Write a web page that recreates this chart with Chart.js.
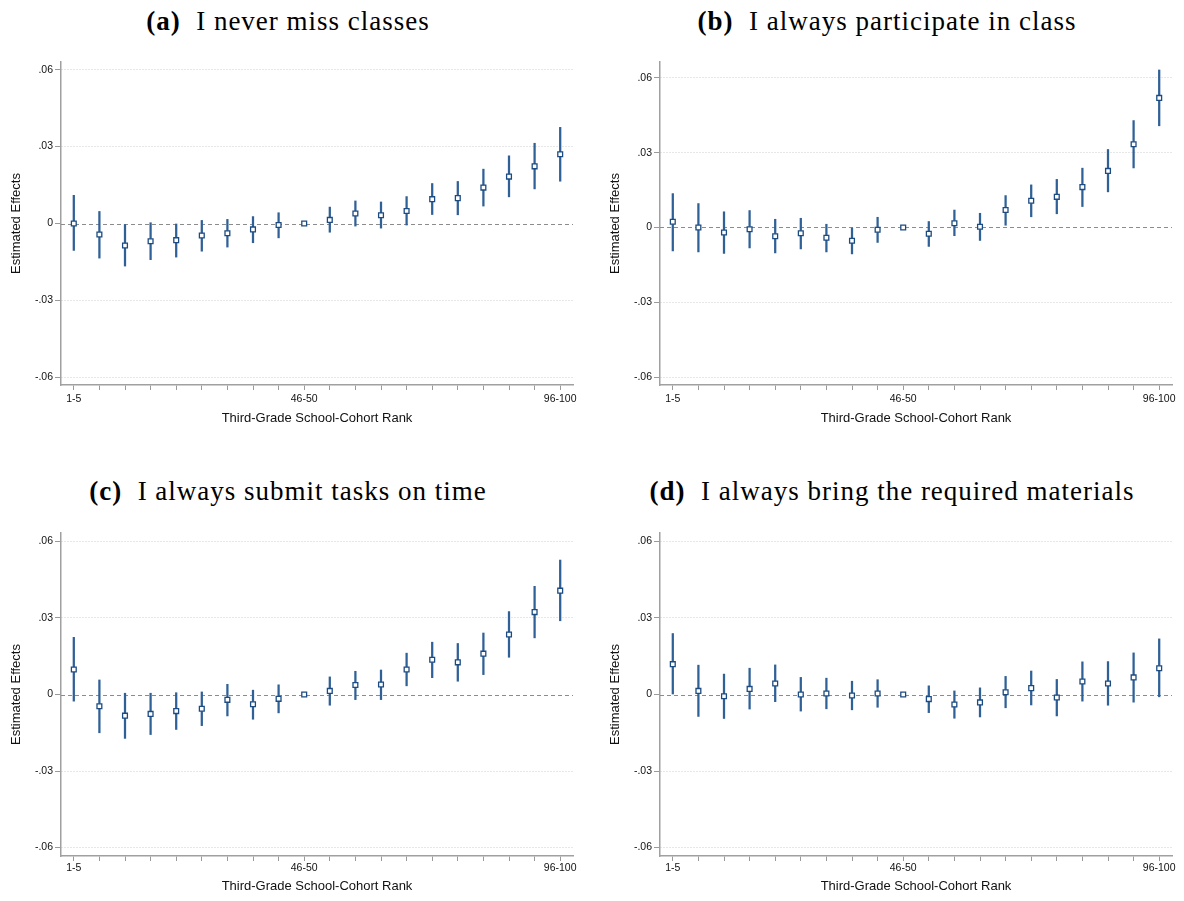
<!DOCTYPE html>
<html>
<head>
<meta charset="utf-8">
<script src="https://cdn.jsdelivr.net/npm/chart.js@4.4.1/dist/chart.umd.min.js"></script>
<style>
  html, body { margin: 0; padding: 0; background: #fff; }
  #page { position: relative; width: 1184px; height: 901px; overflow: hidden; }
  .cap { position: absolute; width: 600px; text-align: center; font-family: "Liberation Serif", "Times New Roman", serif; font-size: 27px; letter-spacing: 1px; color: #000; white-space: pre; line-height: 1; }
  .cap b { font-weight: bold; }
  canvas { position: absolute; }
</style>
</head>
<body>
<div id="page">
  <div class="cap" style="left:-12px; top:8px;"><b>(a)</b>  I never miss classes</div>
  <div class="cap" style="left:587px; top:8px;"><b>(b)</b>  I always participate in class</div>
  <div class="cap" style="left:-12px; top:478px;"><b>(c)</b>  I always submit tasks on time</div>
  <div class="cap" style="left:592px; top:478px;"><b>(d)</b>  I always bring the required materials</div>
  <canvas id="pa" width="592" height="400" style="left:0px; top:50px;"></canvas>
  <canvas id="pb" width="592" height="400" style="left:592px; top:50px;"></canvas>
  <canvas id="pc" width="592" height="380" style="left:0px; top:520px;"></canvas>
  <canvas id="pd" width="592" height="380" style="left:592px; top:520px;"></canvas>
</div>
<script>
// Rank groups (ventiles of the third-grade school-cohort rank)
const ranks = ["1-5","6-10","11-15","16-20","21-25","26-30","31-35","36-40","41-45","46-50",
               "51-55","56-60","61-65","66-70","71-75","76-80","81-85","86-90","91-95","96-100"];
const shownRanks = ["1-5","46-50","96-100"];
const yTicks = [-0.06, -0.03, 0, 0.03, 0.06];

// (a) I never miss classes
const estA = [0.0000,-0.0043,-0.0086,-0.0069,-0.0065,-0.0047,-0.0038,-0.0023,-0.0006,0,
              0.0014,0.0039,0.0032,0.0049,0.0095,0.0099,0.0140,0.0183,0.0223,0.0270];
const loA  = [-0.0105,-0.0135,-0.0166,-0.0141,-0.0131,-0.0108,-0.0092,-0.0075,-0.0056,null,
              -0.0034,-0.0010,-0.0018,-0.0006,0.0035,0.0034,0.0068,0.0104,0.0135,0.0165];
const hiA  = [0.0110,0.0047,-0.0004,0.0003,0.0000,0.0012,0.0016,0.0027,0.0042,null,
              0.0064,0.0088,0.0084,0.0105,0.0156,0.0164,0.0212,0.0264,0.0313,0.0375];

// (b) I always participate in class
const estB = [0.0023,0.0000,-0.0020,-0.0007,-0.0035,-0.0023,-0.0041,-0.0053,-0.0009,0,
              -0.0025,0.0017,0.0003,0.0070,0.0107,0.0123,0.0162,0.0227,0.0334,0.0520];
const loB  = [-0.0094,-0.0098,-0.0104,-0.0082,-0.0102,-0.0086,-0.0098,-0.0106,-0.0060,null,
              -0.0076,-0.0033,-0.0052,0.0009,0.0043,0.0055,0.0084,0.0143,0.0239,0.0408];
const hiB  = [0.0136,0.0096,0.0063,0.0068,0.0033,0.0037,0.0013,0.0000,0.0041,null,
              0.0024,0.0070,0.0057,0.0128,0.0171,0.0193,0.0238,0.0313,0.0429,0.0632];

// (c) I always submit tasks on time
const estC = [0.0098,-0.0046,-0.0083,-0.0076,-0.0065,-0.0056,-0.0021,-0.0038,-0.0017,0,
              0.0014,0.0037,0.0039,0.0098,0.0136,0.0126,0.0160,0.0235,0.0323,0.0407];
const loC  = [-0.0026,-0.0150,-0.0172,-0.0157,-0.0137,-0.0122,-0.0084,-0.0097,-0.0072,null,
              -0.0042,-0.0020,-0.0020,0.0034,0.0066,0.0052,0.0078,0.0146,0.0222,0.0289];
const hiC  = [0.0224,0.0057,0.0005,0.0005,0.0007,0.0010,0.0040,0.0017,0.0038,null,
              0.0069,0.0091,0.0096,0.0162,0.0205,0.0200,0.0241,0.0325,0.0424,0.0527];

// (d) I always bring the required materials
const estD = [0.0119,0.0014,-0.0007,0.0022,0.0043,0.0000,0.0004,-0.0004,0.0004,0,
              -0.0018,-0.0039,-0.0031,0.0009,0.0025,-0.0012,0.0051,0.0043,0.0067,0.0103];
const loD  = [0.0000,-0.0086,-0.0094,-0.0057,-0.0028,-0.0065,-0.0056,-0.0060,-0.0050,null,
              -0.0071,-0.0093,-0.0088,-0.0052,-0.0041,-0.0084,-0.0026,-0.0042,-0.0030,-0.0009];
const hiD  = [0.0239,0.0115,0.0080,0.0103,0.0116,0.0067,0.0064,0.0052,0.0058,null,
              0.0034,0.0014,0.0026,0.0071,0.0092,0.0059,0.0128,0.0129,0.0163,0.0218];

const sans = '"Liberation Sans", Arial, Helvetica, sans-serif';

// dashed reference line at zero across the full plot region
const zeroLine = {
  id: 'zeroLine',
  beforeDatasetsDraw(chart) {
    const { ctx, chartArea: a, scales: { y } } = chart;
    const py = Math.round(y.getPixelForValue(0)) + 0.5;
    ctx.save();
    ctx.strokeStyle = '#8c8c8c';
    ctx.lineWidth = 1.2;
    ctx.setLineDash([4, 3]);
    ctx.beginPath();
    ctx.moveTo(a.left, py);
    ctx.lineTo(a.right, py);
    ctx.stroke();
    ctx.restore();
  }
};

function fmtTick(v) {
  if (Math.abs(v) < 1e-9) return '0';
  const s = String(Math.round(Math.abs(v) * 100)).padStart(2, '0');
  return (v < 0 ? '-.' : '.') + s;
}

function panel(id, est, lo, hi, box) {
  const intervals = lo.map((l, i) => (l === null ? null : [l, hi[i]]));
  return new Chart(document.getElementById(id), {
    type: 'bar',
    data: {
      labels: ranks,
      datasets: [
        {
          type: 'line',
          data: est,
          order: 0,
          showLine: false,
          pointStyle: 'rect',
          pointRadius: 3.4,
          pointBorderWidth: 1.3,
          pointBorderColor: '#1b4b80',
          pointBackgroundColor: '#ffffff'
        },
        {
          type: 'bar',
          data: intervals,
          order: 1,
          barThickness: 1.6,
          backgroundColor: '#2f6096',
          borderWidth: 0
        }
      ]
    },
    options: {
      responsive: false,
      animation: false,
      devicePixelRatio: 1,
      layout: { padding: { left: 0, top: box.top, right: box.right, bottom: 0 } },
      plugins: { legend: { display: false }, tooltip: { enabled: false } },
      scales: {
        x: {
          type: 'category',
          offset: true,
          grid: { offset: false, drawOnChartArea: false, drawTicks: true, tickLength: 5, tickColor: '#9a9a9a', tickWidth: 1 },
          border: { color: '#a0a0a0', width: 1.5 },
          ticks: {
            autoSkip: false, maxRotation: 0, padding: box.xTickPad, color: '#111',
            font: { family: sans, size: 10.5 },
            callback(v, i) { const l = ranks[i]; return shownRanks.includes(l) ? l : ''; }
          },
          title: { display: true, text: 'Third-Grade School-Cohort Rank', color: '#111',
                   font: { family: sans, size: 13 }, padding: { top: 0, bottom: box.xTitlePad } },
          afterFit(s) { s.height = box.xh; }
        },
        y: {
          min: box.ymin, max: box.ymax,
          afterBuildTicks(s) { s.ticks = yTicks.map(v => ({ value: v })); },
          grid: {
            color: c => (c.tick && Math.abs(c.tick.value) < 1e-9 ? 'rgba(0,0,0,0)' : '#cfcfcf'),
            lineWidth: 1, tickLength: 6, tickColor: '#9a9a9a', tickWidth: 1, tickBorderDash: []
          },
          border: { color: '#a0a0a0', width: 1.5, dash: [1, 2] },
          ticks: { padding: 2, color: '#111', font: { family: sans, size: 10.5 }, callback: v => fmtTick(v) },
          title: { display: true, text: 'Estimated Effects', color: '#111',
                   font: { family: sans, size: 13 }, padding: { top: box.yTitlePad, bottom: 0 } },
          afterFit(s) { s.width = box.yw; }
        }
      }
    },
    plugins: [zeroLine]
  });
}

panel('pa', estA, loA, hiA, { top: 12, right: 19, xh: 65, xTickPad: 3, xTitlePad: 24, yw: 61, yTitlePad: 9, ymin: -0.063, ymax: 0.063 });
panel('pb', estB, loB, hiB, { top: 12, right: 12, xh: 65, xTickPad: 3, xTitlePad: 24, yw: 68, yTitlePad: 16, ymin: -0.0632, ymax: 0.0664 });
panel('pc', estC, loC, hiC, { top: 13, right: 19, xh: 44, xTickPad: 1, xTitlePad: 6, yw: 61, yTitlePad: 9, ymin: -0.0633, ymax: 0.0633 });
panel('pd', estD, loD, hiD, { top: 13, right: 12, xh: 44, xTickPad: 1, xTitlePad: 6, yw: 68, yTitlePad: 16, ymin: -0.0633, ymax: 0.0633 });
</script>
</body>
</html>
